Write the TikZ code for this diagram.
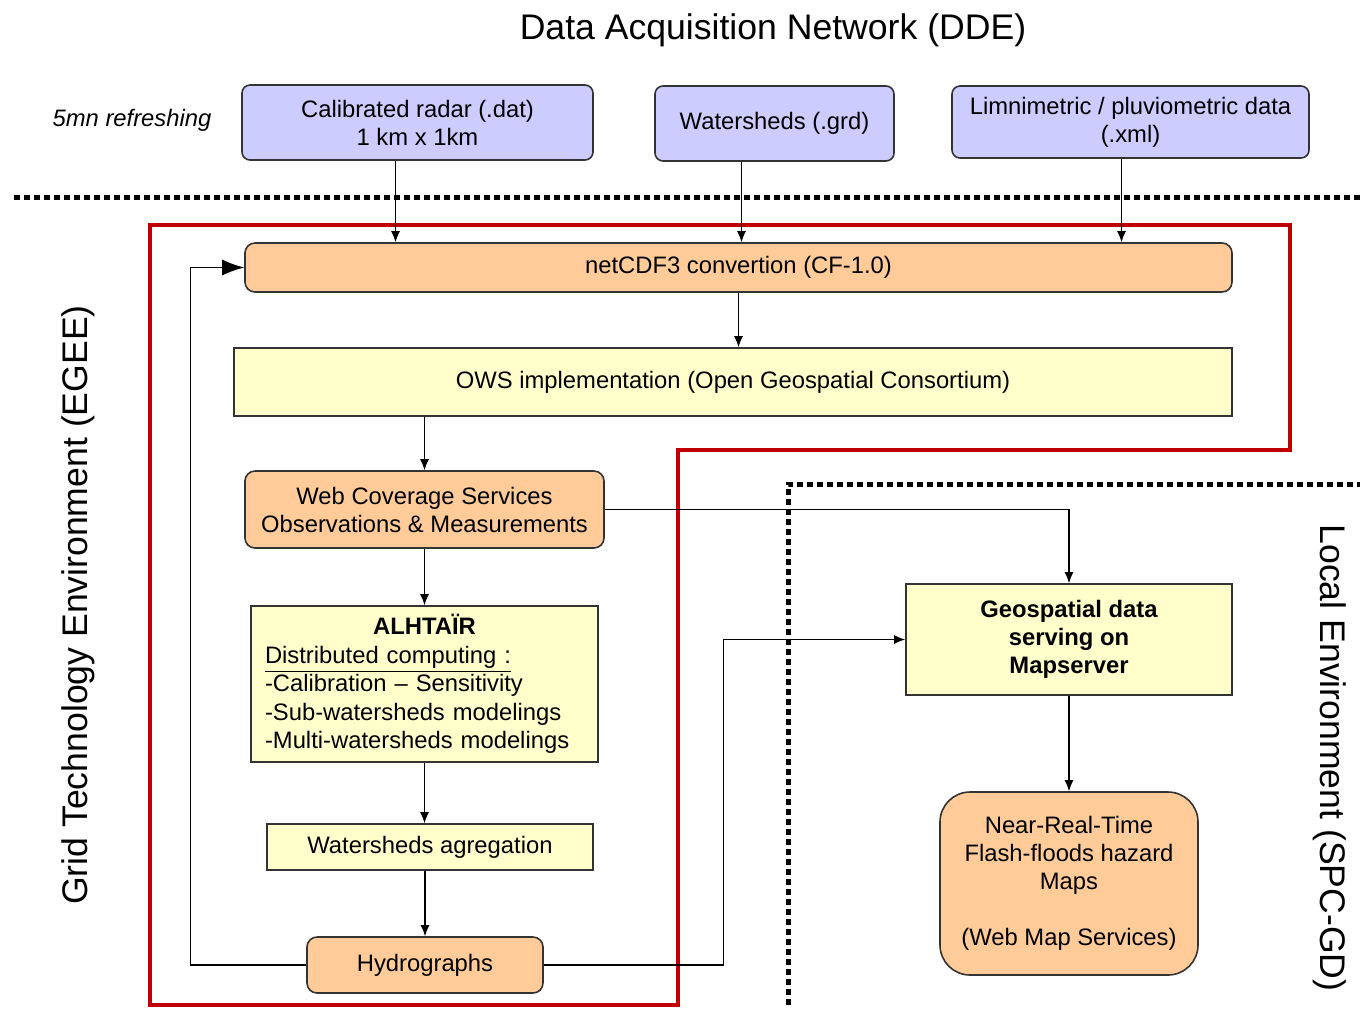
\documentclass[tikz,border=0pt]{standalone}
\usepackage{fontspec}
\setmainfont{Liberation Sans}
\usepackage{xcolor}
\usepackage{tikz}
\usetikzlibrary{arrows.meta,positioning,calc}

\definecolor{dataBlue}{HTML}{CCCCFF}
\definecolor{procOrange}{HTML}{FFCC99}
\definecolor{procYellow}{HTML}{FFFFCC}
\definecolor{gridRed}{HTML}{C00000}
\definecolor{edgeGray}{HTML}{333333}
\newcommand{\dgbox}{\fontsize{11.9}{14}\selectfont}
\newcommand{\dgtitle}{\fontsize{17.8}{21}\selectfont}

\begin{document}
\begin{tikzpicture}[x=0.5pt, y=-0.5pt,
    source/.style={rectangle, rounded corners=4pt, draw=edgeGray, line width=0.8pt, fill=dataBlue, align=center, inner sep=0pt, font=\dgbox},
    service/.style={rectangle, rounded corners=5pt, draw=edgeGray, line width=0.8pt, fill=procOrange, align=center, inner sep=0pt, font=\dgbox},
    process/.style={rectangle, draw=edgeGray, line width=0.8pt, fill=procYellow, align=center, inner sep=0pt, font=\dgbox},
    arr/.style={-{Latex[length=5.5pt,width=4.5pt]}, line width=0.6pt},
    bigarr/.style={-{Latex[length=11pt,width=8pt]}, line width=0.6pt},
    border/.style={line width=2.5pt, dash pattern=on 3pt off 2pt},
    area/.style={draw=gridRed, line width=2pt}]

\useasboundingbox (0,0) rectangle (1360,1009);

% Titles
\node[font=\dgtitle] (title) at (773,30) {Data Acquisition Network (DDE)};
\node[font=\dgbox\itshape] (refresh) at (132,120) {5mn refreshing};
\node[font=\dgtitle, rotate=90] (gridlbl) at (78,605) {Grid Technology Environment (EGEE)};
\node[font=\dgtitle, rotate=-90] (locallbl) at (1330,758) {Local Environment (SPC-GD)};

% Separators
\draw[border] (14,197) -- (1360,197);
\draw[border] (788,1005) -- (788,484) -- (1360,484);
\draw[area] (150,225) -- (1290,225) -- (1290,450) -- (678,450) -- (678,1005) -- (150,1005) -- cycle;

% Data sources
\node[source, minimum width=175.5pt, minimum height=37.5pt] (radar) at (417.5,122.5) {Calibrated radar (.dat)\\1 km x 1km};
\node[source, minimum width=119.5pt, minimum height=37.5pt] (wshed) at (774.5,123.5) {Watersheds (.grd)};
\node[source, minimum width=178.5pt, minimum height=36pt] (limni) at (1130.5,122) {Limnimetric / pluviometric data\\(.xml)};

% Grid chain
\node[service, minimum width=493.5pt, minimum height=24.5pt] (conv) at (738.5,267.5) {netCDF3 convertion (CF-1.0)};
\node[process, minimum width=499pt, minimum height=34pt] (ows) at (733,382) {OWS implementation (Open Geospatial Consortium)};
\node[service, minimum width=179.5pt, minimum height=38.5pt] (wcs) at (424.5,509.5) {Web Coverage Services\\Observations \& Measurements};
\node[process, align=left, text width=159.5pt, inner xsep=7pt, minimum height=78pt, font=\fontsize{11.9}{14.25}\selectfont] (alh) at (424.5,684)
    {\centering\textbf{ALHTAÏR}\par\raggedright\underline{Distributed computing :}\\-Calibration -- Sensitivity\\-Sub-watersheds modelings\\-Multi-watersheds modelings};
\node[process, minimum width=163pt, minimum height=23pt] (agg) at (430,847) {Watersheds agregation};
\node[service, minimum width=118pt, minimum height=28pt] (hydro) at (425,965) {Hydrographs};

% Local chain
\node[process, minimum width=163pt, minimum height=55.5pt, font=\dgbox\bfseries] (geo) at (1069,639.5) {Geospatial data\\serving on\\Mapserver};
\node[service, rounded corners=15pt, minimum width=129pt, minimum height=91.5pt] (nrt) at (1069,883.5) {Near-Real-Time\\Flash-floods hazard\\Maps\\[14pt](Web Map Services)};

% Connectors
\coordinate (radarout) at ($(radar.south)+(-22,0)$);
\coordinate (wshedout) at ($(wshed.south)+(-33,0)$);
\coordinate (limniout) at ($(limni.south)+(-9,0)$);
\draw[arr] (radarout) -- (radarout |- conv.north);
\draw[arr] (wshedout) -- (wshedout |- conv.north);
\draw[arr] (limniout) -- (limniout |- conv.north);
\draw[arr] (conv.south) -- (conv.south |- ows.north);
\draw[arr] (wcs.north |- ows.south) -- (wcs.north);
\draw[arr] (wcs.south) -- (wcs.south |- alh.north);
\draw[arr] (alh.south) -- (alh.south |- agg.north);
\draw[arr] (hydro.north |- agg.south) -- (hydro.north);
\draw[arr] (wcs.east) -| (geo.north);
\draw[bigarr] (hydro.west) -- ++(-116,0) |- (conv.west);
\draw[arr] (hydro.east) -- ++(180,0) |- (geo.west);
\draw[arr] (geo.south) -- (nrt.north);

\end{tikzpicture}
\end{document}
